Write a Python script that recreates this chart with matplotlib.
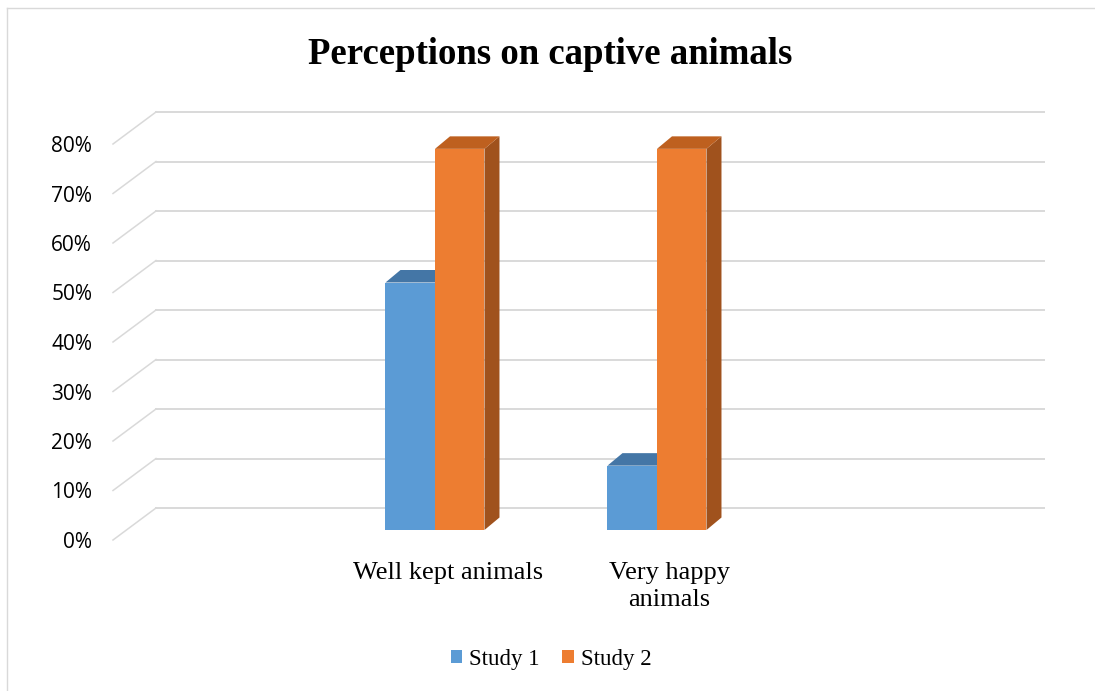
import matplotlib
matplotlib.use("Agg")
import matplotlib.pyplot as plt
from matplotlib.patches import Polygon, Rectangle, Patch
from matplotlib.lines import Line2D
from matplotlib.font_manager import FontProperties

# ---- data ----
categories = ["Well kept animals", "Very happy\nanimals"]
series_names = ["Study 1", "Study 2"]
study1 = [50, 13]
study2 = [77, 77]
y_ticks = [0, 10, 20, 30, 40, 50, 60, 70, 80]
y_tick_labels = ["0%", "10%", "20%", "30%", "40%", "50%", "60%", "70%", "80%"]
title = "Perceptions on captive animals"

# ---- style ----
front_colors = ["#5B9BD5", "#ED7D31"]
top_colors = ["#4476A6", "#BE601F"]
side_colors = ["#3E6A94", "#A0521D"]
grid_color = "#D9D9D9"
serif = "Liberation Serif"
sans = "Open Sans"

W, H = 1095, 691
fig = plt.figure(figsize=(W / 100, H / 100), dpi=100)

# front plane of the 3-D plot box (pixel geometry)
left_px, right_px = 113, 1001
top_px, bottom_px = 144, 540
ax = fig.add_axes([left_px / W, (H - bottom_px) / H,
                   (right_px - left_px) / W, (bottom_px - top_px) / H])
xlim = (-1.39, 2.61)
ylim = (0, 80)
ax.set_xlim(*xlim)
ax.set_ylim(*ylim)
for s in ax.spines.values():
    s.set_visible(False)
ax.set_xticks([])
ax.set_yticks(y_ticks)
ax.set_yticklabels(y_tick_labels, fontproperties=FontProperties(family=sans, size=15))
ax.tick_params(axis="y", length=0, pad=15, colors="#000000")

# pixel -> data unit conversion
ppx = (right_px - left_px) / (xlim[1] - xlim[0])
ppy = (bottom_px - top_px) / (ylim[1] - ylim[0])

def off(dx_px, dy_px):
    return dx_px / ppx, dy_px / ppy

# oblique depth offsets
back_dx, back_dy = off(43, 32)      # back wall
bar_dx, bar_dy = off(13.4, 10)      # front face of bars
depth_dx, depth_dy = off(15, 12.5)  # bar thickness
bar_w = 49.5 / ppx

# back wall gridlines and floor-to-wall diagonals
for v in y_ticks:
    ax.add_line(Line2D([xlim[0] + back_dx, xlim[1] + back_dx],
                       [v + back_dy, v + back_dy],
                       color=grid_color, lw=1.4, clip_on=False, zorder=1))
    ax.add_line(Line2D([xlim[0], xlim[0] + back_dx],
                       [v, v + back_dy],
                       color=grid_color, lw=1.1, clip_on=False, zorder=1))

# 3-D bars
def draw_bar(x0, v, k):
    x0 += bar_dx
    y0 = bar_dy
    x1 = x0 + bar_w
    y1 = v + bar_dy
    side = Polygon([(x1, y0), (x1, y1), (x1 + depth_dx, y1 + depth_dy),
                    (x1 + depth_dx, y0 + depth_dy)], closed=True,
                   facecolor=side_colors[k], edgecolor="none", zorder=3, clip_on=False)
    top = Polygon([(x0, y1), (x1, y1), (x1 + depth_dx, y1 + depth_dy),
                   (x0 + depth_dx, y1 + depth_dy)], closed=True,
                  facecolor=top_colors[k], edgecolor="none", zorder=3, clip_on=False)
    front = Rectangle((x0, y0), bar_w, v, facecolor=front_colors[k],
                      edgecolor="none", zorder=4, clip_on=False)
    ax.add_patch(side)
    ax.add_patch(top)
    ax.add_patch(front)

for i in range(len(categories)):
    for k, vals in enumerate([study1, study2]):
        x0 = i - bar_w + k * bar_w
        draw_bar(x0, vals[i], k)

# category labels
lbl_off = 26 / ppx
for i, c in enumerate(categories):
    ax.text(i + lbl_off, 1 - (562 - top_px) / (bottom_px - top_px), c,
            transform=ax.get_xaxis_transform(), ha="center", va="top",
            fontfamily=serif, fontsize=19, linespacing=1.32, color="#000000")

# title
fig.text(550.5 / W, 1 - 64 / H, title, ha="center", va="baseline",
         fontfamily=serif, fontweight="bold", fontsize=26.5, color="#000000")

# legend
handles = [Patch(facecolor=front_colors[k], edgecolor="none") for k in range(2)]
fig.legend(handles, series_names, loc="center",
           bbox_to_anchor=(551 / W, 1 - 659 / H), ncol=2, frameon=False,
           prop=FontProperties(family=serif, size=16.5),
           handlelength=0.5, handleheight=0.5, handletextpad=0.3,
           columnspacing=1.0, borderpad=0)

# chart-area border (top and left edges)
fig.add_artist(Line2D([7 / W, 1.0], [1 - 8 / H, 1 - 8 / H],
                      transform=fig.transFigure, color=grid_color, lw=1.0))
fig.add_artist(Line2D([7 / W, 7 / W], [0.0, 1 - 8 / H],
                      transform=fig.transFigure, color=grid_color, lw=1.0))

fig.savefig("out.png", dpi=100)
